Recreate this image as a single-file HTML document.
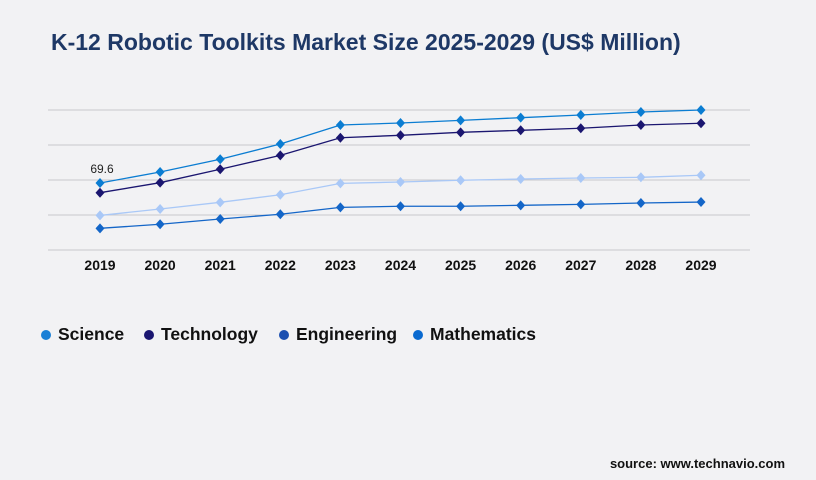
<!DOCTYPE html>
<html><head><meta charset="utf-8"><style>
body{margin:0;width:816px;height:480px;background:#f2f2f4;font-family:"Liberation Sans",sans-serif;overflow:hidden;position:relative}
#title{position:absolute;left:51px;top:29px;font-size:23px;font-weight:bold;color:#1e3866;margin:0;white-space:nowrap}
#src{position:absolute;right:31px;top:456px;font-size:13px;font-weight:bold;color:#111}
</style></head><body>
<h1 id="title">K-12 Robotic Toolkits Market Size 2025-2029 (US$ Million)</h1>
<svg id="chart" width="816" height="480" style="position:absolute;left:0;top:0"></svg>
<div id="src">source: www.technavio.com</div>
<script>
const years=["2019","2020","2021","2022","2023","2024","2025","2026","2027","2028","2029"];
const science=[69.6,81.0,94.2,110.1,129.8,131.9,134.6,137.4,140.2,143.3,145.4];
const technology=[59.5,69.9,83.8,98.3,116.6,119.1,122.2,124.3,126.4,129.8,131.6];
const engineering=[35.9,42.6,49.5,57.4,69.2,70.6,72.4,73.7,74.8,75.5,77.6];
const mathematics=[22.5,26.7,32.2,37.1,44.3,45.4,45.4,46.4,47.4,48.8,49.8];
const seriesNames=["Science","Technology","Engineering","Mathematics"];
const NS="http://www.w3.org/2000/svg";
const svg=document.getElementById('chart');
const x0=100,dx=60.1,yBase=250,k=0.963;
const xs=i=>x0+i*dx, ys=v=>yBase-v*k;
function mk(t,a){const e=document.createElementNS(NS,t);for(const q in a)e.setAttribute(q,a[q]);svg.appendChild(e);return e;}
for(let g=0;g<5;g++){const l=mk('line',{x1:48,x2:750,y1:250-g*35,y2:250-g*35,stroke:'#c8c8cc','stroke-width':1});

}
years.forEach((y,i)=>{const t=mk('text',{x:xs(i),y:270,'text-anchor':'middle','font-size':14,'font-weight':'bold',fill:'#111'});t.textContent=y;

});
const data=[science,technology,engineering,mathematics];
const lineCols=["#0b7dd2","#1b1670","#a9c8f7","#1466c8"];
[3,2,1,0].forEach(s=>{const d=data[s];
const p=mk('polyline',{points:d.map((v,i)=>xs(i)+','+ys(v)).join(' '),fill:'none',stroke:lineCols[s],'stroke-width':1.3});


d.forEach((v,i)=>{const cx=xs(i),cy=ys(v);
const m=mk('path',{d:`M${cx},${cy-5}L${cx+4.5},${cy}L${cx},${cy+5}L${cx-4.5},${cy}Z`,fill:lineCols[s]});

});});
const lab=mk('text',{x:xs(0)+2,y:ys(science[0])-10,'text-anchor':'middle','font-size':12,fill:'#222'});lab.textContent=science[0];


const legCols=["#1a80d6","#1a1670","#1b4fb0","#0a6ad0"];
const legX=[46,149,284,418];
seriesNames.forEach((n,i)=>{
const c=mk('circle',{cx:legX[i],cy:335,r:5,fill:legCols[i]});


const t=mk('text',{x:legX[i]+12,y:340,'font-size':17.5,'font-weight':'bold',fill:'#111'});t.textContent=n;

});
</script>
</body></html>
